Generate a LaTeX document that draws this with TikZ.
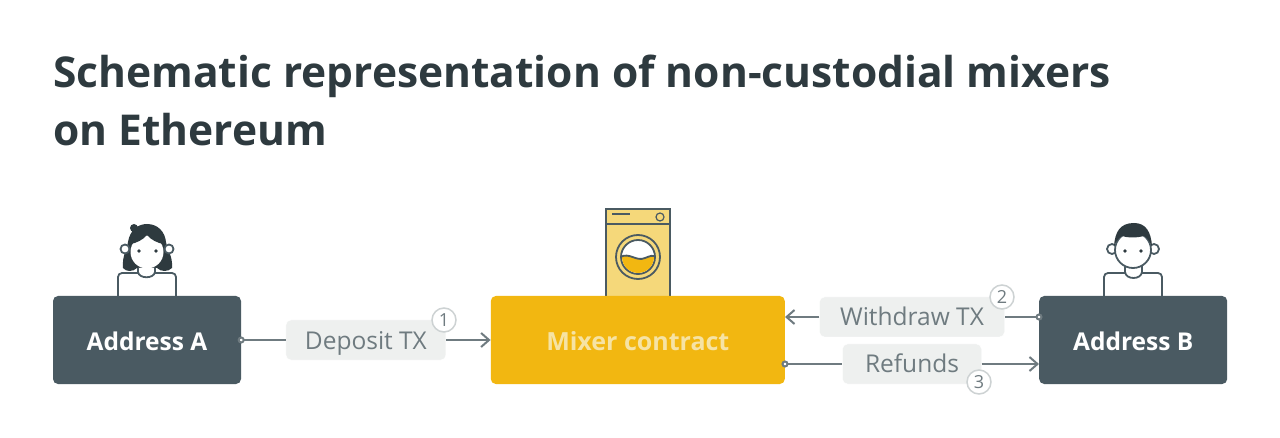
\documentclass[tikz,border=0pt]{standalone}
\usepackage{fontspec}
\setmainfont{Open Sans}
\usetikzlibrary{arrows.meta, positioning}
\definecolor{mslate}{HTML}{4A5A62}
\definecolor{mdark}{HTML}{2E3A3F}
\definecolor{mamber}{HTML}{F2B711}
\definecolor{mpale}{HTML}{F5D87A}
\definecolor{mcream}{HTML}{F6E3A4}
\definecolor{mmist}{HTML}{EEF0EF}
\definecolor{mgray}{HTML}{6F7B80}
\definecolor{mring}{HTML}{CDD2D3}
\tikzstyle{heading} = [anchor=north west, inner sep=0pt, align=left, text width=1150pt, text=mdark, font=\fontsize{42.5}{58}\selectfont\bfseries]
\tikzstyle{address} = [rectangle, rounded corners=5pt, minimum width=188pt, minimum height=88pt, inner sep=0pt, text height=24pt, text depth=4pt, text=white, fill=mslate, font=\fontsize{24.5}{28}\selectfont\bfseries]
\tikzstyle{contract} = [address, minimum width=294pt, text=mcream, fill=mamber, font=\fontsize{25}{28}\selectfont\bfseries]
\tikzstyle{txlabel} = [rectangle, rounded corners=5pt, minimum height=40pt, inner sep=0pt, text height=24pt, text depth=6pt, text=mgray, fill=mmist, draw=white, font=\fontsize{24.5}{28}\selectfont]
\tikzstyle{badge} = [circle, minimum size=24pt, inner sep=0pt, text=mgray, fill=white, draw=mring, line width=1.5pt, font=\fontsize{18}{20}\selectfont]
\tikzstyle{cable} = [line width=2pt, draw=mgray]
\tikzstyle{outline} = [line width=1.8pt, draw=mslate]
\tikzstyle{tailDot} = [{Circle[open,fill=white,length=7pt,width=7pt]}-, shorten <=-3.5pt]
\tikzstyle{headBarb} = [-{Straight Barb[length=8pt,width=14pt]}]

\begin{document}
\begin{tikzpicture}[x=1pt,y=-1pt]
  \useasboundingbox (0,0) rectangle (1280,438);
  \node (title) [heading] at (53,55) {\spaceskip 0.26em\relax Schematic representation of non-custodial mixers\\on Ethereum};
  % icons first, the boxes sit over their lower edge
  % woman
  \draw [outline, fill=white, rounded corners=4pt] (118,298) -- (118,273) -- (176,273) -- (176,298);
  \fill [mdark] (134,228) circle (4) (123,268) .. controls (122,255) and (127,250) .. (128,242) .. controls (130,230) and (138,224) .. (147,224) .. controls (158,224) and (165,232) .. (166,242) .. controls (167,250) and (173,256) .. (172,268) .. controls (168,272) and (161,272) .. (157,268) -- (137,268) .. controls (133,272) and (126,272) .. (123,268) -- cycle;
  \draw [outline, fill=white] (125,249) circle (4.5) (169,249) circle (4.5);
  \draw [outline, fill=white] (138,268) -- (138,272) .. controls (139,279) and (154,279) .. (155,272) -- (155,268);
  \fill [white] (147,252) circle (16.5);
  \fill [mdark] (131,244) .. controls (136,243) and (143,240) .. (147,235) .. controls (151,240) and (158,243) .. (163,244) -- (160,232) -- (134,232) -- cycle;
  \fill [mdark] (139,251) circle (1.8) (156,251) circle (1.8);
  % washing machine
  \draw [outline, fill=mpale] (606,298) -- (606,209) -- (670,209) -- (670,298);
  \draw [outline] (606,224) -- (670,224);
  \draw [outline, line width=1.2pt] (660,217) circle (4);
  \draw [mslate, line width=2pt] (612,214) -- (630,214);
  \draw [outline, fill=mpale] (638,257) circle (22);
  \draw [outline, fill=white] (638,257) circle (17);
  \begin{scope}
    \clip (638,257) circle (16);
    \fill [mamber] (620,257) .. controls (630,252) and (636,262) .. (645,258) .. controls (650,256) and (653,255) .. (656,256) -- (656,276) -- (620,276) -- cycle;
    \draw [outline] (620,257) .. controls (630,252) and (636,262) .. (645,258) .. controls (650,256) and (653,255) .. (656,256);
  \end{scope}
  % man
  \draw [outline, fill=white, rounded corners=4pt] (1104,298) -- (1104,273) -- (1162,273) -- (1162,298);
  \draw [outline, fill=white] (1112,249) circle (5) (1154,249) circle (5);
  \draw [outline, fill=white] (1125,266) -- (1125,272) .. controls (1126,280) and (1141,280) .. (1142,272) -- (1142,266);
  \draw [outline, fill=white] (1133,250) circle (18);
  \fill [mdark] (1114,246) .. controls (1115,232) and (1120,223) .. (1134,223) .. controls (1146,223) and (1151,232) .. (1152,246) .. controls (1149,240) and (1146,237) .. (1144,236) .. controls (1136,238) and (1128,238) .. (1122,236) .. controls (1119,238) and (1116,241) .. (1114,246) -- cycle;
  \fill [mdark] (1125,251) circle (1.8) (1141,251) circle (1.8);
  % boxes
  \node (addrA) [address] at (147,340) {Address A};
  \node (deposit) [txlabel, minimum width=160pt, right=44.5pt of addrA] {Deposit TX};
  \node (mixer) [contract, right=44.5pt of deposit] {Mixer contract};
  \node (addrB) [address, right=254pt of mixer] {Address B};
  \node (withdraw) [txlabel, minimum width=185pt] at (912,317) {Withdraw TX};
  \node (refunds) [txlabel, minimum width=139pt] at (912,364) {Refunds};
  \node (one) [badge] at (444,320) {1};
  \node (two) [badge] at (1002,297) {2};
  \node (three) [badge] at (979,382) {3};
  % connectors
  \draw [cable, tailDot] (addrA.east) -- (deposit.west);
  \draw [cable, headBarb] (deposit.east) -- (mixer.west);
  \draw [cable, tailDot] (addrB.west |- withdraw) -- (withdraw.east);
  \draw [cable, headBarb] (withdraw.west) -- (mixer.east |- withdraw);
  \draw [cable, tailDot] (mixer.east |- refunds) -- (refunds.west);
  \draw [cable, headBarb] (refunds.east) -- (addrB.west |- refunds);
\end{tikzpicture}
\end{document}
